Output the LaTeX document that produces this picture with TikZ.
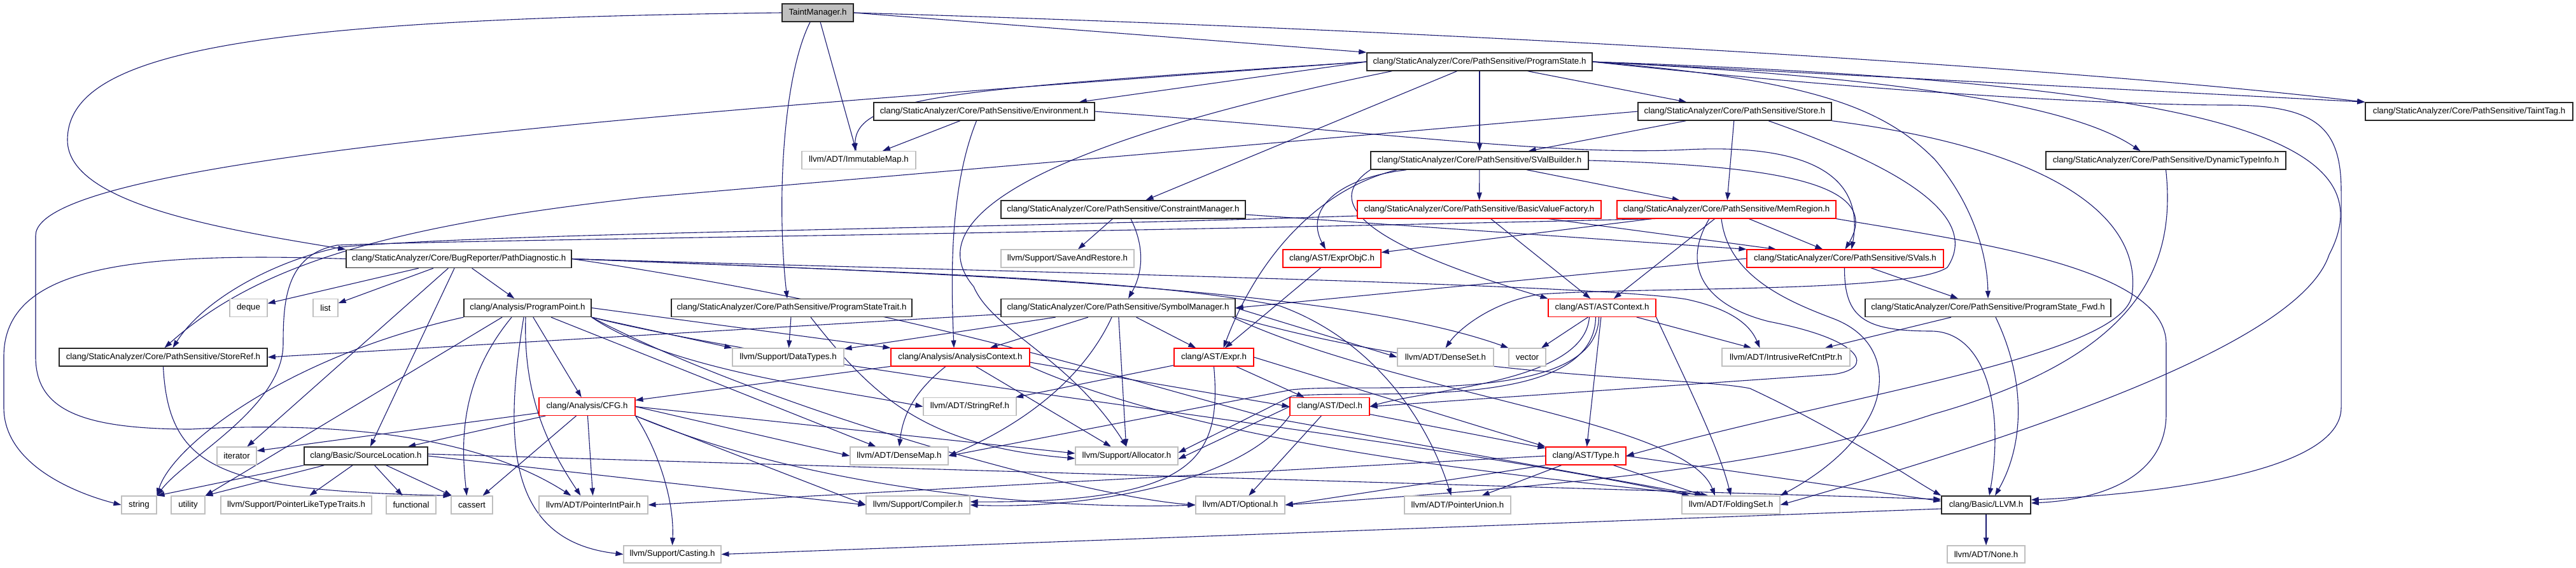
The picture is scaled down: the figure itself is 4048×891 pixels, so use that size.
\documentclass[tikz,border=0pt]{standalone}
\usepackage{fontspec}
\setmainfont{Liberation Sans}
\usetikzlibrary{arrows.meta}
\definecolor{edgec}{HTML}{191970}
\definecolor{extg}{HTML}{BFBFBF}
\definecolor{tmfill}{HTML}{BFBFBF}
\definecolor{docb}{HTML}{262626}
\pgfdeclarelayer{bg}
\pgfsetlayers{bg,main}
\begin{document}
\begin{tikzpicture}[x=1bp,y=-1bp,
  box/.style={rectangle, fill=white, line width=1.1bp, minimum height=28bp, inner sep=0pt, font=\fontsize{13.3bp}{15bp}\selectfont},
  doc/.style={box, draw=docb, line width=1.5bp},
  trunc/.style={box, draw=red},
  ext/.style={box, draw=extg},
  dep/.style={draw=edgec, line width=1.1bp, -{Triangle[length=12bp,width=8bp]}}]
\useasboundingbox (0,0) rectangle (4048,891);
% nodes
\node[doc, fill=tmfill, minimum width=112bp] (tm) at (1285,20) {TaintManager.h};
\node[doc, minimum width=354bp] (ps) at (2325,97) {clang/StaticAnalyzer/Core/PathSensitive/ProgramState.h};
\node[doc, minimum width=347bp] (env) at (1546.5,175) {clang/StaticAnalyzer/Core/PathSensitive/Environment.h};
\node[ext, minimum width=179bp] (imm) at (1349.5,251.5) {llvm/ADT/ImmutableMap.h};
\node[doc, minimum width=304bp] (store) at (2726,175) {clang/StaticAnalyzer/Core/PathSensitive/Store.h};
\node[doc, minimum width=342bp] (svb) at (2325,252) {clang/StaticAnalyzer/Core/PathSensitive/SValBuilder.h};
\node[doc, minimum width=326bp] (ttag) at (3880,175) {clang/StaticAnalyzer/Core/PathSensitive/TaintTag.h};
\node[doc, minimum width=377bp] (dti) at (3403.5,252) {clang/StaticAnalyzer/Core/PathSensitive/DynamicTypeInfo.h};
\node[doc, minimum width=384bp] (cm) at (1765,329) {clang/StaticAnalyzer/Core/PathSensitive/ConstraintManager.h};
\node[ext, minimum width=209bp] (sar) at (1677.5,406) {llvm/Support/SaveAndRestore.h};
\node[trunc, minimum width=383bp] (bvf) at (2324.5,329) {clang/StaticAnalyzer/Core/PathSensitive/BasicValueFactory.h};
\node[trunc, minimum width=344bp] (mr) at (2713,329) {clang/StaticAnalyzer/Core/PathSensitive/MemRegion.h};
\node[doc, minimum width=354bp] (pd) at (721,406.5) {clang/StaticAnalyzer/Core/BugReporter/PathDiagnostic.h};
\node[trunc, minimum width=154bp] (eoc) at (2093,406) {clang/AST/ExprObjC.h};
\node[trunc, minimum width=309bp] (svals) at (2899.5,406) {clang/StaticAnalyzer/Core/PathSensitive/SVals.h};
\node[ext, minimum width=59bp] (deque) at (390.5,483.5) {deque};
\node[ext, minimum width=39bp] (list) at (511.5,483.5) {list};
\node[doc, minimum width=200bp] (pp) at (829,483.5) {clang/Analysis/ProgramPoint.h};
\node[doc, minimum width=378bp] (pst) at (1244,483.5) {clang/StaticAnalyzer/Core/PathSensitive/ProgramStateTrait.h};
\node[doc, minimum width=368bp] (sm) at (1757,483.5) {clang/StaticAnalyzer/Core/PathSensitive/SymbolManager.h};
\node[trunc, minimum width=169bp] (astc) at (2517.5,483.5) {clang/AST/ASTContext.h};
\node[doc, minimum width=386bp] (psf) at (3124,483.5) {clang/StaticAnalyzer/Core/PathSensitive/ProgramState\_Fwd.h};
\node[doc, minimum width=327bp] (sref) at (256.5,561) {clang/StaticAnalyzer/Core/PathSensitive/StoreRef.h};
\node[ext, minimum width=175bp] (dtypes) at (1238.5,561) {llvm/Support/DataTypes.h};
\node[trunc, minimum width=218bp] (actx) at (1509,561) {clang/Analysis/AnalysisContext.h};
\node[trunc, minimum width=125bp] (expr) at (1907.5,561) {clang/AST/Expr.h};
\node[ext, minimum width=151bp] (dset) at (2271.5,561) {llvm/ADT/DenseSet.h};
\node[ext, minimum width=58bp] (vector) at (2400,561) {vector};
\node[ext, minimum width=201bp] (irc) at (2806.5,561) {llvm/ADT/IntrusiveRefCntPtr.h};
\node[trunc, minimum width=151bp] (cfg) at (922.5,638.5) {clang/Analysis/CFG.h};
\node[ext, minimum width=146bp] (sref2) at (1524,638.5) {llvm/ADT/StringRef.h};
\node[trunc, minimum width=125bp] (decl) at (2089.5,638.5) {clang/AST/Decl.h};
\node[ext, minimum width=62bp] (iter) at (372,716) {iterator};
\node[doc, minimum width=194bp] (sloc) at (575,716) {clang/Basic/SourceLocation.h};
\node[ext, minimum width=154bp] (dmap) at (1413,716) {llvm/ADT/DenseMap.h};
\node[ext, minimum width=161bp] (alloc) at (1770.5,716) {llvm/Support/Allocator.h};
\node[trunc, minimum width=126bp] (type) at (2492,716) {clang/AST/Type.h};
\node[ext, minimum width=55bp] (string) at (218.5,793) {string};
\node[ext, minimum width=53bp] (utility) at (295.5,793) {utility};
\node[ext, minimum width=237bp] (pltt) at (465.5,793) {llvm/Support/PointerLikeTypeTraits.h};
\node[ext, minimum width=78bp] (func) at (646,793) {functional};
\node[ext, minimum width=65bp] (cassert) at (741.5,793) {cassert};
\node[ext, minimum width=171bp] (pip) at (932.5,793) {llvm/ADT/PointerIntPair.h};
\node[ext, minimum width=163bp] (comp) at (1442.5,793) {llvm/Support/Compiler.h};
\node[ext, minimum width=140bp] (opt) at (1949,793) {llvm/ADT/Optional.h};
\node[ext, minimum width=167bp] (pu) at (2290.5,793) {llvm/ADT/PointerUnion.h};
\node[ext, minimum width=154bp] (fset) at (2720,793) {llvm/ADT/FoldingSet.h};
\node[doc, minimum width=140bp] (llvmh) at (3121,793) {clang/Basic/LLVM.h};
\node[ext, minimum width=153bp, minimum height=27bp] (cast) at (1056.5,870.5) {llvm/Support/Casting.h};
\node[ext, minimum width=122bp, minimum height=27bp] (none) at (3121,870.5) {llvm/ADT/None.h};
\begin{pgfonlayer}{bg}
% TaintManager
\draw[dep] (tm.west) .. controls (400,30) and (106,80) .. (106,220) .. controls (106,320) and (350,360) .. (pd.north west);
\draw[dep] ([xshift=-12bp]tm.south) .. controls (1230,120) and (1220,320) .. ([xshift=-7bp]pst.north);
\draw[dep] (tm) -- (imm);
\draw[dep] (tm.east) -- (ps.north west);
\draw[dep] (tm.east) .. controls (2200,45) and (3200,100) .. (ttag.north west);
% ProgramState
\draw[dep] (ps.west) -- ([xshift=-25bp]env.north east);
\draw[dep] (ps.west) .. controls (1500,140) and (1345,150) .. ([xshift=-6bp]imm.north);
\draw[dep] (ps.west) .. controls (1000,180) and (56,250) .. (56,370) -- (56,560) .. controls (56,640) and (120,674) .. (300,674) .. controls (550,660) and (760,690) .. ([xshift=-35bp]pip.north);
\draw[dep] ([xshift=40bp]ps.south west) .. controls (1750,200) and (1420,320) .. (1530,450) .. controls (1560,520) and (1680,560) .. (alloc.north);
\draw[dep] (ps) -- (cm);
\draw[dep] (ps) -- (svb);
\draw[dep] (ps) -- (store);
\draw[dep] (ps.east) .. controls (2950,120) and (3250,160) .. ([xshift=-40bp]dti.north);
\draw[dep] (ps.east) -- (ttag.north west);
\draw[dep] (ps.east) .. controls (2900,140) and (3300,165) .. (3500,165) .. controls (3640,165) and (3679,200) .. (3679,300) -- (3679,640) .. controls (3679,740) and (3400,775) .. ([yshift=8bp]llvmh.east);
\draw[dep] (ps.east) .. controls (3450,130) and (3760,210) .. (3660,400) .. controls (3620,520) and (3300,650) .. (fset.east);
\draw[dep] (ps.east) .. controls (2850,125) and (2960,170) .. (3040,250) .. controls (3100,320) and (3123,400) .. (psf.north);
% Environment
\draw[dep] (env) -- (imm);
\draw[dep] (env.east) .. controls (2200,210) and (2450,245) .. (2650,235) .. controls (2850,225) and (2930,280) .. ([xshift=10bp]svals.north);
\draw[dep] ([xshift=-12bp]env.south) .. controls (1490,300) and (1495,450) .. ([xshift=-10bp]actx.north);
% Store
\draw[dep] (store) -- (svb);
\draw[dep] (store) -- (mr);
\draw[dep] (store.west) -- (1012,310) .. controls (600,355) and (400,420) .. ([xshift=2bp]sref.north);
\draw[dep] ([xshift=53bp]store.south) .. controls (2950,250) and (3120,330) .. (3060,420) .. controls (3000,460) and (2600,450) .. (2420,462) .. controls (2340,475) and (2290,520) .. (dset.north);
\draw[dep] (store.south east) .. controls (3200,230) and (3370,330) .. (3350,465) .. controls (3330,560) and (2900,620) .. (type.east);
% DynamicTypeInfo
\draw[dep] (dti.south) .. controls (3420,420) and (3360,560) .. (3036,651) .. controls (2800,730) and (2500,760) .. (opt.east);
% ConstraintManager
\draw[dep] (cm) -- (sar);
\draw[dep] ([xshift=12bp]cm.south) .. controls (1800,390) and (1795,430) .. ([xshift=16bp]sm.north);
\draw[dep] ([yshift=-8bp]cm.east) -- (svals.north west);
% SValBuilder
\draw[dep] (svb) -- (bvf);
\draw[dep] (svb) -- (mr);
\draw[dep] (svb.east) .. controls (2800,260) and (2960,290) .. (svals.north);
\draw[dep] ([xshift=-115bp]svb.south) .. controls (2100,280) and (2050,330) .. ([xshift=-10bp]eoc.north);
\draw[dep] (svb.south west) .. controls (2060,330) and (2200,400) .. (astc.north west);
\draw[dep] ([xshift=-130bp]svb.south) .. controls (2060,300) and (1970,420) .. ([xshift=15bp]expr.north);
% BasicValueFactory
\draw[dep] ([yshift=-10bp]bvf.west) .. controls (1500,360) and (800,365) .. (535,388) .. controls (430,410) and (320,470) .. ([xshift=15bp]sref.north);
\draw[dep] (bvf) -- (astc);
\draw[dep] (bvf) -- (svals);
% MemRegion
\draw[dep] (mr) -- (eoc);
\draw[dep] (mr) -- (svals);
\draw[dep] (mr) -- (astc);
\draw[dep] (mr.south east) .. controls (3100,380) and (3404,420) .. (3404,540) -- (3404,650) .. controls (3404,750) and (3300,785) .. ([yshift=3bp]llvmh.east);
\draw[dep] ([xshift=-27bp]mr.south) .. controls (2640,420) and (2680,480) .. (2780,505) .. controls (2935,535) and (2945,580) .. (2880,588) -- (decl.east);
\draw[dep] ([xshift=-8bp]mr.south) .. controls (2715,430) and (2800,470) .. (2880,500) .. controls (2960,530) and (2965,600) .. (2940,650) .. controls (2910,710) and (2850,750) .. (fset.north east);
\draw[dep] ([xshift=-112bp]mr.south) .. controls (1500,370) and (800,375) .. (530,385) .. controls (450,400) and (445,470) .. (445,540) .. controls (445,640) and (290,720) .. (string.north east);
% ExprObjC
\draw[dep] (eoc) -- (expr);
% SVals
\draw[dep] (svals.west) -- (sm.east);
\draw[dep] ([xshift=40bp]svals.south) -- ([xshift=-47bp]psf.north);
\draw[dep] ([xshift=-1bp]svals.south) .. controls (2898,500) and (2930,520) .. (3036,520) .. controls (3120,522) and (3150,640) .. ([xshift=5bp]llvmh.north);
% ProgramState_Fwd
\draw[dep] ([xshift=-58bp]psf.south) -- ([xshift=-40bp]irc.north east);
\draw[dep] ([xshift=12bp]psf.south) .. controls (3185,600) and (3180,700) .. ([xshift=14bp]llvmh.north);
% PathDiagnostic
\draw[dep] (pd) -- (deque);
\draw[dep] (pd) -- (list);
\draw[dep] (pd) -- (pp);
\draw[dep] (pd) -- (sloc);
\draw[dep] (pd) -- (iter);
\draw[dep] (pd.west) .. controls (200,395) and (6,420) .. (6,560) -- (6,640) .. controls (6,730) and (120,775) .. (string.west);
\draw[dep] (pd.east) .. controls (1500,430) and (2100,450) .. (vector.north west);
\draw[dep] (pd.east) .. controls (1500,425) and (2500,445) .. (2650,470) .. controls (2720,485) and (2750,510) .. ([xshift=60bp]irc.north west);
\draw[dep] (pd.east) .. controls (1400,480) and (1750,590) .. (1990,655) -- ([xshift=-45bp]fset.north);
\draw[dep] (pd.east) .. controls (1500,430) and (1800,440) .. (2010,480) .. controls (2150,530) and (2240,650) .. ([xshift=-10bp]pu.north);
% ProgramPoint
\draw[dep] (pp.east) -- (actx.north west);
\draw[dep] (pp.south east) -- (dtypes.north west);
\draw[dep] (pp) -- (cfg);
\draw[dep] (pp) -- (dmap);
\draw[dep] (pp.south east) .. controls (1050,580) and (1300,610) .. (sref2.west);
\draw[dep] (pp.south east) .. controls (1300,590) and (2200,680) .. ([xshift=-65bp]fset.north);
\draw[dep] (pp.south east) .. controls (1200,640) and (1700,780) .. (opt.west);
\draw[dep] ([xshift=-3bp]pp.south) .. controls (822,620) and (860,700) .. ([xshift=-20bp]pip.north);
\draw[dep] ([xshift=-6bp]pp.south) .. controls (790,700) and (800,850) .. (cast.west);
\draw[dep] ([xshift=-25bp]pp.south) .. controls (720,600) and (725,700) .. ([xshift=-8bp]cassert.north);
\draw[dep] (pp.south west) .. controls (450,560) and (270,700) .. (string.north east);
\draw[dep] ([xshift=-40bp]pp.south) -- (utility.north east);
% ProgramStateTrait
\draw[dep] (pst) -- (dtypes);
\draw[dep] ([xshift=30bp]pst.south) .. controls (1370,620) and (1450,700) .. ([yshift=-4bp]alloc.west);
% SymbolManager
\draw[dep] ([yshift=-10bp]sm.west) -- (sref.east);
\draw[dep] (sm) -- (dtypes);
\draw[dep] (sm) -- (actx);
\draw[dep] (sm) -- (expr);
\draw[dep] ([xshift=-10bp]sm.south) .. controls (1700,600) and (1600,670) .. (dmap.east);
\draw[dep] (sm) -- (alloc);
\draw[dep] (sm.east) -- (dset.west);
\draw[dep] ([xshift=-5bp]sm.south east) .. controls (2200,620) and (2650,660) .. ([xshift=-25bp]fset.north);
\draw[dep] (sm.south east) .. controls (2300,600) and (2650,590) .. (2750,610) .. controls (2900,680) and (3000,750) .. (llvmh.north west);
% ASTContext
\draw[dep] (astc) -- (vector);
\draw[dep] (astc) -- (irc);
\draw[dep] (astc) -- (type);
\draw[dep] (astc.south east) .. controls (2650,600) and (2700,700) .. (fset.north);
\draw[dep] ([xshift=-20bp]astc.south) .. controls (2490,600) and (2250,610) .. (decl.east);
\draw[dep] ([xshift=-5bp]astc.south) .. controls (2510,640) and (2150,600) .. (2030,612) -- (dmap.east);
\draw[dep] ([xshift=-10bp]astc.south) .. controls (2505,650) and (2150,610) .. (2030,622) -- ([yshift=5bp]alloc.east);
% Decl
\draw[dep] (decl) -- (type);
\draw[dep] (decl) -- (opt);
\draw[dep] (decl.west) -- ([yshift=-5bp]alloc.east);
\draw[dep] (decl.south west) .. controls (1950,760) and (1700,800) .. (comp.east);
% Expr
\draw[dep] (expr) -- (sref2);
\draw[dep] (expr.east) -- (type.north west);
\draw[dep] ([xshift=35bp]expr.south) -- ([xshift=-40bp]decl.north);
\draw[dep] (expr.south) .. controls (1920,720) and (1880,790) .. ([yshift=5bp]comp.east);
% Type
\draw[dep] (type) -- (pu);
\draw[dep] (type) -- (fset);
\draw[dep] (type.south west) -- (opt.east);
\draw[dep] (type.east) -- ([yshift=6bp]llvmh.west);
\draw[dep] (type.west) -- (pip.east);
% SourceLocation
\draw[dep] (sloc.south west) -- (string.north east);
\draw[dep] ([xshift=32bp]sloc.south west) -- (utility.north east);
\draw[dep] (sloc) -- (pltt);
\draw[dep] (sloc) -- (func);
\draw[dep] (sloc) -- (cassert);
\draw[dep] (sloc.east) -- (comp.west);
\draw[dep] ([yshift=3bp]sloc.east) -- ([yshift=9bp]llvmh.west);
% StoreRef
\draw[dep] (sref.south) .. controls (265,740) and (350,770) .. (cassert.north west);
% CFG
\draw[dep] ([yshift=-10bp]cfg.west) -- ([yshift=8bp]iter.east);
\draw[dep] (cfg) -- (sloc);
\draw[dep] (cfg) -- (cassert);
\draw[dep] (cfg) -- (pip);
\draw[dep] (cfg.south east) .. controls (1030,700) and (1060,780) .. (cast.north);
\draw[dep] (cfg.east) -- (dmap.west);
\draw[dep] (cfg.east) -- ([yshift=4bp]alloc.west);
\draw[dep] (cfg.south east) .. controls (1300,780) and (1700,800) .. (opt.west);
\draw[dep] (cfg.south east) -- (comp.west);
% AnalysisContext
\draw[dep] (actx) -- (cfg);
\draw[dep] ([xshift=-23bp]actx.south) .. controls (1430,620) and (1418,660) .. (dmap.north);
\draw[dep] (actx) -- (alloc);
\draw[dep] ([yshift=-8bp]actx.east) -- (decl.west);
\draw[dep] (actx.south east) .. controls (1900,700) and (2400,750) .. ([xshift=-35bp]fset.north);
% LLVM
\draw[dep] ([yshift=-6bp]llvmh.west) -- (cast.east);
\draw[dep] (llvmh) -- (none);
\end{pgfonlayer}
\end{tikzpicture}
\end{document}
